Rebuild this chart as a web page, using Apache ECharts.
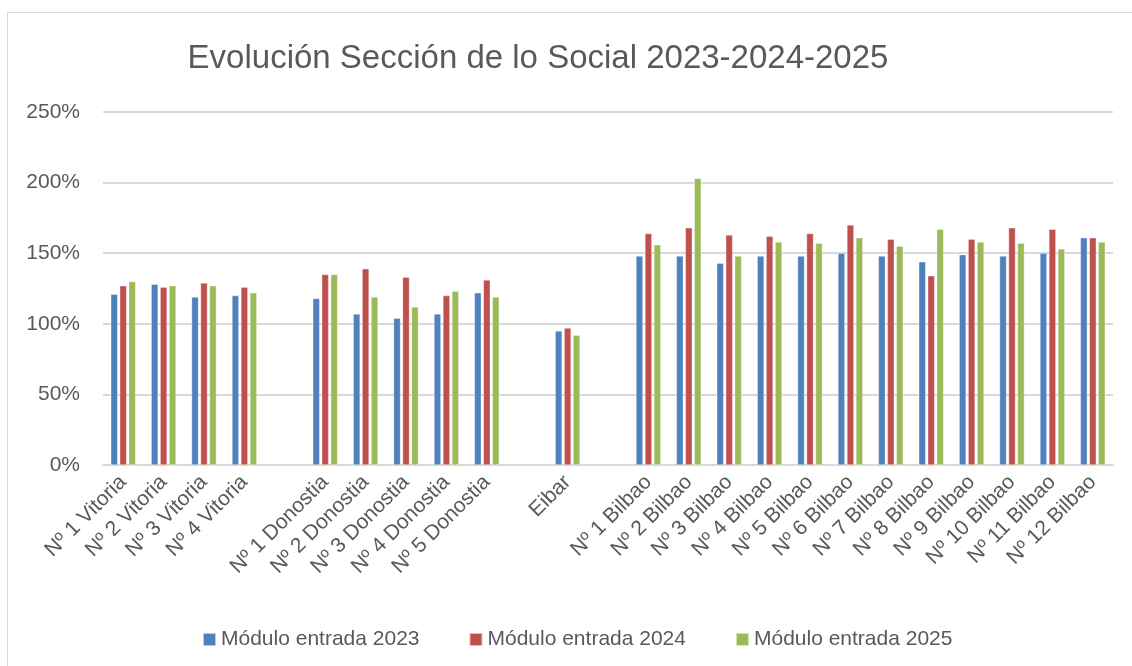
<!DOCTYPE html>
<html><head><meta charset="utf-8">
<script src="https://cdn.jsdelivr.net/npm/echarts@6/dist/echarts.min.js"></script>
<style>html,body{margin:0;padding:0;background:#fff}#c{width:1132px;height:666px}</style>
</head><body><div id="c"></div>
<script>
const categories = ['Nº 1 Vitoria','Nº 2 Vitoria','Nº 3 Vitoria','Nº 4 Vitoria','',
  'Nº 1 Donostia','Nº 2 Donostia','Nº 3 Donostia','Nº 4 Donostia','Nº 5 Donostia','',
  'Eibar','',
  'Nº 1 Bilbao','Nº 2 Bilbao','Nº 3 Bilbao','Nº 4 Bilbao','Nº 5 Bilbao','Nº 6 Bilbao',
  'Nº 7 Bilbao','Nº 8 Bilbao','Nº 9 Bilbao','Nº 10 Bilbao','Nº 11 Bilbao','Nº 12 Bilbao'];
const s2023 = [121,128,119,120,null, 118,107,104,107,122,null, 95,null, 148,148,143,148,148,150,148,144,149,148,150,161];
const s2024 = [127,126,129,126,null, 135,139,133,120,131,null, 97,null, 164,168,163,162,164,170,160,134,160,168,167,161];
const s2025 = [130,127,127,122,null, 135,119,112,123,119,null, 92,null, 156,203,148,158,157,161,155,167,158,157,153,158];
const seriesNames = ['Módulo entrada 2023','Módulo entrada 2024','Módulo entrada 2025'];
const colors = ['#4f81bd','#c0504d','#9bbb59'];
const yTicks = [0,50,100,150,200,250];

const font = '"Liberation Sans", Arial, sans-serif';
const chart = echarts.init(document.getElementById('c'));
const mk = (name, data, i) => ({
  name, type: 'bar', data, barWidth: 7, barGap: '28%',
  itemStyle: { color: colors[i], borderColor: 'rgba(255,255,255,0.6)', borderWidth: 0.6 }
});
chart.setOption({
  animation: false,
  title: { text: 'Evolución Sección de lo Social 2023-2024-2025', left: 533, top: 37, textAlign: 'center',
    textStyle: { fontFamily: font, fontSize: 33, fontWeight: 'normal', color: '#595959' } },
  graphic: [{ type: 'rect', shape: { x: 7.5, y: 12.5, width: 1200, height: 700 },
    style: { fill: 'none', stroke: '#d9d9d9', lineWidth: 1 }, silent: true }],
  legend: { data: seriesNames, left: 197, top: 624, itemWidth: 13, itemHeight: 13, itemGap: 49,
    icon: 'rect', textStyle: { fontFamily: font, fontSize: 21, color: '#595959' } },
  grid: { left: 103, right: 19, top: 112, bottom: 201, containLabel: false },
  xAxis: { type: 'category', data: categories,
    axisLine: { lineStyle: { color: '#d9d9d9', width: 2 } }, axisTick: { show: false },
    axisLabel: { interval: 0, rotate: 45, fontFamily: font, fontSize: 21,
      color: '#595959', margin: 14 } },
  yAxis: { type: 'value', min: yTicks[0], max: yTicks[yTicks.length-1], interval: 50,
    axisLine: { show: false }, axisTick: { show: false },
    splitLine: { lineStyle: { color: '#d9d9d9', width: 2 } },
    axisLabel: { formatter: v => v + '%', fontFamily: font, fontSize: 21, color: '#595959', margin: 23 } },
  series: [mk(seriesNames[0], s2023, 0), mk(seriesNames[1], s2024, 1), mk(seriesNames[2], s2025, 2)]
});
</script></body></html>
